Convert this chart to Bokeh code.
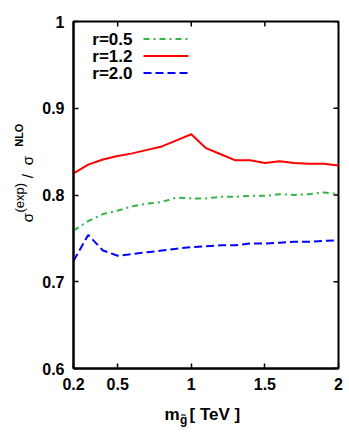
import math
from bokeh.plotting import figure
from bokeh.models import Label, FixedTicker, Range1d
from bokeh.layouts import row, column
from bokeh.core.properties import value
from bokeh.embed import file_html
from bokeh.resources import INLINE

# ---------------- data ----------------
mass_tev = [0.2, 0.3, 0.4, 0.5, 0.6, 0.7, 0.8, 0.9, 1.0, 1.1,
            1.2, 1.3, 1.4, 1.5, 1.6, 1.7, 1.8, 1.9, 2.0]
ratio_r05 = [0.759, 0.770, 0.778, 0.782, 0.787, 0.790, 0.792, 0.797, 0.796, 0.796,
             0.798, 0.798, 0.799, 0.799, 0.801, 0.800, 0.801, 0.803, 0.801]
ratio_r12 = [0.825, 0.835, 0.841, 0.845, 0.848, 0.852, 0.856, 0.863, 0.870, 0.854,
             0.847, 0.840, 0.840, 0.837, 0.839, 0.837, 0.836, 0.836, 0.834]
ratio_r20 = [0.724, 0.754, 0.736, 0.730, 0.732, 0.734, 0.736, 0.738, 0.740, 0.741,
             0.742, 0.742, 0.744, 0.744, 0.745, 0.746, 0.746, 0.747, 0.748]
series_labels = ["r=0.5", "r=1.2", "r=2.0"]
x_ticks = [0.2, 0.5, 1.0, 1.5, 2.0]
x_tick_labels = ["0.2", "0.5", "1", "1.5", "2"]
y_ticks = [0.6, 0.7, 0.8, 0.9, 1.0]
y_tick_labels = ["0.6", "0.7", "0.8", "0.9", "1"]

# ---------------- layout (page pixels) ----------------
TOTAL_W, TOTAL_H = 349, 439
YLAB_W = 36                      # strip holding the rotated y label
XMIN, XMAX, YMIN, YMAX = 0.2, 2.0, 0.6, 1.0
FW, FH = 265, 347
FL, FT = 73, 21                  # frame left/top on the page
MAIN_W = TOTAL_W - YLAB_W
MAIN_H = 396
XLAB_H = TOTAL_H - MAIN_H
TICK_LEN = 5

FONT = "Liberation Sans"
GREEN, RED, BLUE = "#32b446", "#ff0000", "#0000ff"


def dx(px):
    return XMIN + (px - FL) / FW * (XMAX - XMIN)


def dy(py):
    return YMAX - (py - FT) / FH * (YMAX - YMIN)


p = figure(frame_width=FW, frame_height=FH,
           x_range=Range1d(XMIN, XMAX), y_range=Range1d(YMIN, YMAX),
           output_backend="svg", toolbar_location=None,
           min_border_left=FL - YLAB_W, min_border_right=MAIN_W - (FL - YLAB_W) - FW,
           min_border_top=FT, min_border_bottom=MAIN_H - FT - FH)
p.background_fill_color = "white"
p.border_fill_color = "white"
p.outline_line_color = "black"
p.outline_line_width = 2
p.xgrid.visible = False
p.ygrid.visible = False


def style_axis(ax, ticks, labels):
    ax.ticker = FixedTicker(ticks=ticks)
    ax.major_label_overrides = {t: l for t, l in zip(ticks, labels)}
    ax.axis_line_width = 2
    ax.axis_line_color = "black"
    ax.major_tick_in = TICK_LEN
    ax.major_tick_out = 0
    ax.major_tick_line_width = 1.5
    ax.minor_tick_line_color = None
    ax.major_label_text_font = FONT
    ax.major_label_text_font_style = "bold"
    ax.major_label_text_font_size = "16px"
    ax.major_label_text_color = "black"
    ax.major_label_standoff = 9


style_axis(p.xaxis[0], x_ticks, x_tick_labels)
style_axis(p.yaxis[0], y_ticks, y_tick_labels)

# mirrored inward ticks on the top and right frame edges
tick_dy = TICK_LEN / FH * (YMAX - YMIN)
tick_dx = TICK_LEN / FW * (XMAX - XMIN)
p.segment(x0=x_ticks, y0=[YMAX] * len(x_ticks), x1=x_ticks,
          y1=[YMAX - tick_dy] * len(x_ticks), line_color="black", line_width=1.5)
p.segment(x0=[XMAX] * len(y_ticks), y0=y_ticks, x1=[XMAX - tick_dx] * len(y_ticks),
          y1=y_ticks, line_color="black", line_width=1.5)

# ---------------- data lines ----------------
p.line(mass_tev, ratio_r05, line_color=GREEN, line_width=2, line_dash="6 4 2 4")
p.line(mass_tev, ratio_r12, line_color=RED, line_width=2)
p.line(mass_tev, ratio_r20, line_color=BLUE, line_width=2, line_dash="8 4")

# ---------------- legend (gnuplot style: text then sample) ----------------
leg_rows = [38.5, 55.5, 72.5]
leg_styles = [(GREEN, "6 4 2 4"), (RED, "solid"), (BLUE, "8 4")]
for lab, r, (col, dash) in zip(series_labels, leg_rows, leg_styles):
    p.add_layout(Label(x=dx(132), y=dy(r), text=lab, text_align="right",
                       text_baseline="middle", text_font=FONT, text_font_style="bold",
                       text_font_size="17px", text_color="black"))
    p.line([dx(143), dx(188)], [dy(r), dy(r)], line_color=col, line_width=2,
           line_dash=dash)


def strip(w, h):
    f = figure(width=w, height=h, x_range=Range1d(0, w), y_range=Range1d(0, h),
               output_backend="svg", toolbar_location=None,
               x_axis_type=None, y_axis_type=None, min_border=0)
    f.outline_line_color = None
    f.xgrid.visible = False
    f.ygrid.visible = False
    f.background_fill_color = "white"
    f.border_fill_color = "white"
    return f


# ---------------- y axis label: sigma^(exp) / sigma^NLO (rotated) ----------------
ylab = strip(YLAB_W, MAIN_H)
ylab_parts = [
    # text, baseline x (page), start y (page), size, style
    ("σ", 27, 229, "15px", "normal"),
    ("(exp)", 18.5, 218, "13px", "normal"),
    ("/", 27, 179, "15px", "normal"),
    ("σ", 27, 164, "15px", "normal"),
    ("NLO", 18.5, 143, "11px", "bold"),
]
for txt, bx, sy, size, style in ylab_parts:
    ylab.text(x=[bx], y=[MAIN_H - sy], text=[txt], angle=math.pi / 2,
              text_align="left", text_baseline="alphabetic",
              text_font=value(FONT), text_font_style=style,
              text_font_size=value(size), text_color="black")

# ---------------- x axis label: m_g~ [ TeV ] ----------------
xlab = strip(TOTAL_W, XLAB_H)
xlab_parts = [
    ("m", 164, 414, "17px", "bold"),
    ("g\u0303", 179.5, 419, "12px", "bold"),
    ("[ TeV ]", 189, 414, "17px", "bold"),
]
for txt, lx, by, size, style in xlab_parts:
    xlab.text(x=[lx], y=[TOTAL_H - by], text=[txt], text_align="left",
              text_baseline="alphabetic", text_font=value(FONT),
              text_font_style=style, text_font_size=value(size), text_color="black")

layout = column(row(ylab, p), xlab)
open("out.html", "w").write(file_html(layout, INLINE))
